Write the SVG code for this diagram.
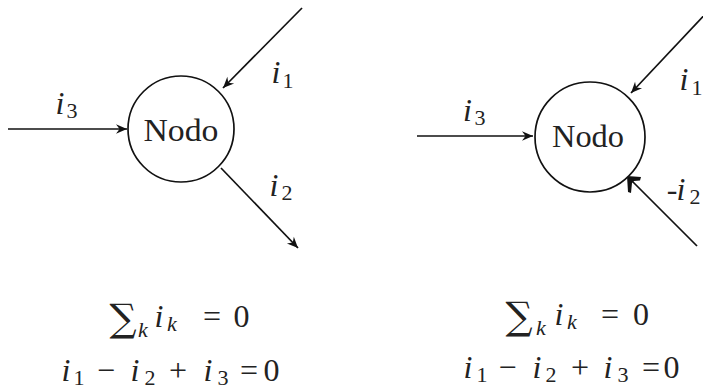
<svg xmlns="http://www.w3.org/2000/svg" width="703" height="389" viewBox="0 0 703 389">
<defs>
<style>
.bg{fill:#fff}
.node{fill:#fff;stroke:#111;stroke-width:1.7}
.edge{fill:none;stroke:#111;stroke-width:1.7}
.lbl{font-family:"Liberation Serif","Times New Roman",serif;fill:#222;text-anchor:middle}
.it{font-style:italic;font-size:32px}
.sub{font-style:normal;font-size:22px}
.rm{font-style:normal;font-size:32px}
.sum{font-family:"DejaVu Serif",serif;font-style:normal;font-size:38px}
.subk{font-style:italic;font-size:22px}
.name{font-family:"Liberation Serif","Times New Roman",serif;font-size:32px;fill:#222;text-anchor:middle}
</style>
<marker id="ah" markerUnits="userSpaceOnUse" markerWidth="14" markerHeight="12" viewBox="-12 -6 14 12" refX="0" refY="0" orient="auto">
<path d="M0,0 L-11,-4.8 L-7.5,0 L-11,4.8 Z" fill="#111"/>
</marker>
</defs>
<rect class="bg" x="0" y="0" width="703" height="389"/>

<g id="edges">
<line class="edge" x1="8" y1="129" x2="127" y2="129" marker-end="url(#ah)"/>
<line class="edge" x1="302" y1="8" x2="223" y2="88" marker-end="url(#ah)"/>
<line class="edge" x1="221" y1="168" x2="298" y2="248" marker-end="url(#ah)"/>
<line class="edge" x1="417" y1="136" x2="533" y2="136" marker-end="url(#ah)"/>
<line class="edge" x1="712" y1="7" x2="631" y2="93" marker-end="url(#ah)"/>
<line class="edge" x1="697" y1="246" x2="630" y2="179"/>
<path d="M627,176 L641,177 L640,180.5 L634,181 L632,183 L631,193 L628,192 Z" fill="#111"/>
</g>

<g id="node-left">
<circle class="node" cx="181" cy="129" r="53"/>
<text class="name" x="181" y="141" textLength="75" lengthAdjust="spacingAndGlyphs">Nodo</text>
</g>
<g id="node-right">
<circle class="node" cx="590" cy="137" r="55"/>
<text class="name" x="588" y="147" textLength="72" lengthAdjust="spacingAndGlyphs">Nodo</text>
</g>

<g id="labels-left" class="lbl">
<text><tspan class="it" x="60" y="114">i</tspan><tspan class="sub" x="72" y="118">3</tspan></text>
<text><tspan class="it" x="276" y="83">i</tspan><tspan class="sub" x="288" y="88">1</tspan></text>
<text><tspan class="it" x="274" y="196">i</tspan><tspan class="sub" x="287" y="200">2</tspan></text>
</g>
<g id="labels-right" class="lbl">
<text><tspan class="it" x="467.5" y="121">i</tspan><tspan class="sub" x="480" y="125">3</tspan></text>
<text><tspan class="it" x="684" y="90">i</tspan><tspan class="sub" x="697" y="95">1</tspan></text>
<text><tspan class="rm" x="672" y="200">-</tspan><tspan class="it" x="681" y="200">i</tspan><tspan class="sub" x="695" y="204">2</tspan></text>
</g>

<g id="eq-left" class="lbl">
<text><tspan class="sum" x="123" y="331">∑</tspan><tspan class="subk" x="143" y="337">k</tspan><tspan class="it" x="159" y="327">i</tspan><tspan class="subk" x="172" y="331">k</tspan><tspan class="rm" x="212" y="327">=</tspan><tspan class="rm" x="241.5" y="327">0</tspan></text>
<text><tspan class="it" x="66" y="381">i</tspan><tspan class="sub" x="79" y="385">1</tspan><tspan class="rm" x="106" y="381">−</tspan><tspan class="it" x="135" y="381">i</tspan><tspan class="sub" x="150" y="385">2</tspan><tspan class="rm" x="178" y="381">+</tspan><tspan class="it" x="208" y="381">i</tspan><tspan class="sub" x="223" y="385">3</tspan><tspan class="rm" x="249" y="381">=</tspan><tspan class="rm" x="271.5" y="381">0</tspan></text>
</g>
<g id="eq-right" class="lbl">
<text><tspan class="sum" x="519" y="329">∑</tspan><tspan class="subk" x="541" y="335">k</tspan><tspan class="it" x="559" y="325">i</tspan><tspan class="subk" x="572" y="329">k</tspan><tspan class="rm" x="610" y="325">=</tspan><tspan class="rm" x="641" y="325">0</tspan></text>
<text><tspan class="it" x="468" y="378">i</tspan><tspan class="sub" x="482" y="382">1</tspan><tspan class="rm" x="507.5" y="378">−</tspan><tspan class="it" x="537" y="378">i</tspan><tspan class="sub" x="551" y="382">2</tspan><tspan class="rm" x="580" y="378">+</tspan><tspan class="it" x="608" y="378">i</tspan><tspan class="sub" x="623" y="382">3</tspan><tspan class="rm" x="651" y="378">=</tspan><tspan class="rm" x="671.5" y="378">0</tspan></text>
</g>
</svg>
